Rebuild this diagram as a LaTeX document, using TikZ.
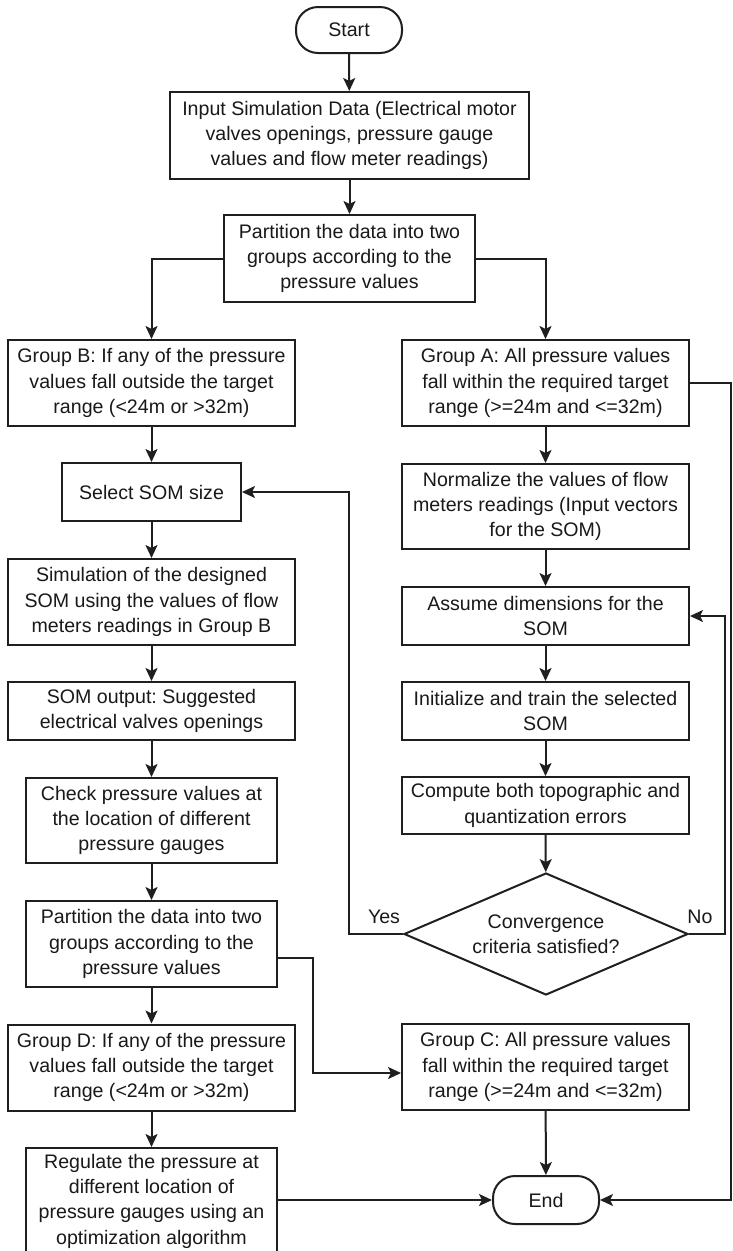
\documentclass[tikz,border=0pt]{standalone}
\usepackage{fontspec}
\setmainfont{Liberation Sans}
\usetikzlibrary{arrows.meta,shapes.geometric,calc}
\frenchspacing
\begin{document}
\begin{tikzpicture}[x=1pt,y=-1pt,
  every node/.style={font=\fontsize{19.6}{25.3}\selectfont\frenchspacing, text=black!90},
  box/.style={draw=black!88, line width=2pt, rectangle, align=center, inner sep=0pt, minimum width=287pt, minimum height=86pt},
  term/.style={draw=black!88, line width=2pt, rectangle, rounded corners=22pt, align=center, inner sep=0pt, minimum width=106pt, minimum height=46pt},
  dia/.style={draw=black!88, line width=2pt, diamond, aspect=2.33, align=center, inner sep=0pt, minimum width=284pt, minimum height=122pt},
  arr/.style={draw=black!88, line width=2pt, -{Stealth[length=13pt,width=12pt,inset=3pt]}},
  lbl/.style={inner sep=0pt}
]
\fill[white] (0,0) rectangle (732,1251);
\useasboundingbox (0,0) rectangle (732,1251);

\node[term] (start) at (349,30) {Start};
\node[box, minimum width=359pt, minimum height=87pt] (input) at (349.5,135.5) {Input Simulation Data (Electrical motor\\valves openings, pressure gauge\\values and flow meter readings)};
\node[box, minimum width=251pt, minimum height=87pt] (part1) at (349.5,258.5) {Partition the data into two\\groups according to the\\pressure values};
\node[box] (grpB) at (151.5,383) {Group B: If any of the pressure\\values fall outside the target\\range (<24m or >32m)};
\node[box] (grpA) at (545.5,383) {Group A: All pressure values\\fall within the required target\\range (>=24m and <=32m)};
\node[box, minimum width=179pt, minimum height=58pt] (select) at (151.5,492) {Select SOM size};
\node[box, minimum height=85pt] (norm) at (545.5,506.5) {Normalize the values of flow\\meters readings (Input vectors\\for the SOM)};
\node[box] (sim) at (151.5,602) {Simulation of the designed\\SOM using the values of flow\\meters readings in Group B};
\node[box, minimum height=58pt] (assume) at (545.5,616) {Assume dimensions for the\\SOM};
\node[box, minimum height=58pt] (somout) at (151.5,711) {SOM output: Suggested\\electrical valves openings};
\node[box, minimum height=58pt] (init) at (545.5,711) {Initialize and train the selected\\SOM};
\node[box, minimum width=251pt, minimum height=85pt] (check) at (151.5,820.5) {Check pressure values at\\the location of different\\pressure gauges};
\node[box, minimum height=57pt] (compute) at (545.5,805.5) {Compute both topographic and\\quantization errors};
\node[dia] (conv) at (546,934) {Convergence\\criteria satisfied?};
\node[box, minimum width=251pt, minimum height=86pt] (part2) at (151.5,944) {Partition the data into two\\groups according to the\\pressure values};
\node[box] (grpD) at (151.5,1067.5) {Group D: If any of the pressure\\values fall outside the target\\range (<24m or >32m)};
\node[box] (grpC) at (545.5,1067) {Group C: All pressure values\\fall within the required target\\range (>=24m and <=32m)};
\node[box, minimum width=251pt, minimum height=106pt] (reg) at (151.5,1201) {Regulate the pressure at\\different location of\\pressure gauges using an\\optimization algorithm};
\node[term, minimum height=48pt] (end) at (546,1200) {End};

\node[lbl] (yeslbl) at (384,917) {Yes};
\node[lbl] (nolbl) at (700,917) {No};

\coordinate (yesc) at (349,934);
\coordinate (noc) at (725,934);
\coordinate (rightc) at (731,383);
\coordinate (c1) at (313,958);
\coordinate (c2) at (313,1073);

\draw[arr] (start) -- (input);
\draw[arr] (input) -- (part1);
\draw[arr] (part1.west) -| (grpB.north);
\draw[arr] (part1.east) -| (grpA.north);
\draw[arr] (grpB) -- (select);
\draw[arr] (select) -- (sim);
\draw[arr] (sim) -- (somout);
\draw[arr] (somout) -- (check);
\draw[arr] (check) -- (part2);
\draw[arr] (part2) -- (grpD);
\draw[arr] (grpD) -- (reg);
\draw[arr] (grpA) -- (norm);
\draw[arr] (norm) -- (assume);
\draw[arr] (assume) -- (init);
\draw[arr] (init) -- (compute);
\draw[arr] (compute) -- (conv);
\draw[arr] (conv.west) -- (yesc) |- (select.east);
\draw[arr] (conv.east) -- (noc) |- (assume.east);
\draw[arr] (grpA.east) -- (rightc) |- (end.east);
\draw[arr] ([yshift=-14pt]part2.east) -- (c1) -- (c2) -- ([yshift=-6pt]grpC.west);
\draw[arr] (grpC) -- (end);
\draw[arr] (reg.east |- end.west) -- (end.west);
\end{tikzpicture}
\end{document}
